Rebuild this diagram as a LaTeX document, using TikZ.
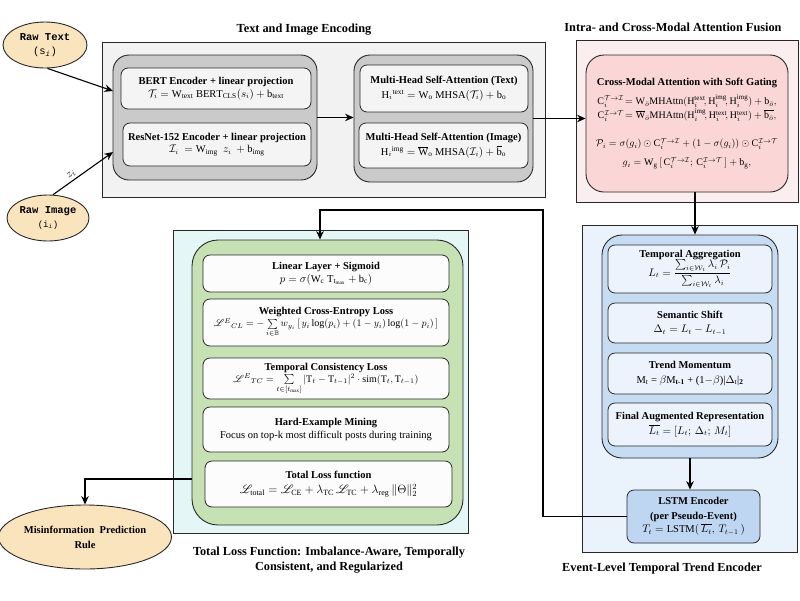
\documentclass[tikz,border=0pt]{standalone}
\usepackage{amsmath,amssymb,mathrsfs}
\usepackage{fontspec}
\setmainfont{Liberation Serif}
\setmonofont{Liberation Mono}
\usetikzlibrary{shapes.geometric,arrows.meta,calc}

\definecolor{peach}{RGB}{250,228,190}
\definecolor{encpanel}{RGB}{242,242,242}
\definecolor{encgray}{RGB}{202,202,202}
\definecolor{encbox}{RGB}{244,244,244}
\definecolor{fuspanel}{RGB}{251,238,238}
\definecolor{fuspink}{RGB}{250,214,214}
\definecolor{evpanel}{RGB}{234,242,252}
\definecolor{evblue}{RGB}{198,220,243}
\definecolor{evbox}{RGB}{236,243,252}
\definecolor{lstmblue}{RGB}{190,214,242}
\definecolor{losspanel}{RGB}{229,246,246}
\definecolor{lossgreen}{RGB}{198,225,180}
\definecolor{lossbox}{RGB}{252,252,252}
\definecolor{edge}{RGB}{40,40,40}

\newcommand{\boxhead}[1]{\textbf{\fontsize{10.5}{12}\selectfont #1}}

\begin{document}
\begin{tikzpicture}[x=1pt,y=-1pt,
  every node/.style={inner sep=1pt, align=center, font=\fontsize{10.5}{12.5}\selectfont},
  arr/.style={-{Stealth[length=8.5pt,width=7.5pt]}, line width=1.1pt, draw=black},
  panel/.style={draw=edge, line width=0.8pt, rectangle},
  holder/.style={draw=edge, line width=0.9pt, rectangle, rounded corners=16pt},
  inbox/.style={draw=edge, line width=0.8pt, rectangle, rounded corners=7pt},
  oval/.style={draw=edge, line width=0.9pt, ellipse, fill=peach, inner sep=0pt},
  title/.style={font=\bfseries\fontsize{12.3}{15}\selectfont}
]
\useasboundingbox (0,0) rectangle (800,600);

% ---------- inputs ----------
\node[oval, minimum width=84pt, minimum height=46pt, font=\ttfamily\bfseries\fontsize{10.5}{13}\selectfont] (rawtext) at (45,45)
  {Raw Text\\[1pt]\mdseries (s\textsubscript{\itshape i})};
\node[oval, minimum width=82pt, minimum height=46pt, font=\ttfamily\bfseries\fontsize{10.5}{13}\selectfont] (rawimg) at (48,218)
  {Raw Image\\[1pt]\mdseries\fontsize{9}{11}\selectfont (i\textsubscript{\itshape i})};

% ---------- text and image encoding ----------
\node[title] (enctitle) at (304,30) {Text and Image Encoding};
\node[panel, fill=encpanel, minimum width=443pt, minimum height=155pt] (enc) at (323.5,119.5) {};
\node[holder, fill=encgray, minimum width=204pt, minimum height=125pt] (leftc) at (215,117.5) {};
\node[holder, fill=encgray, minimum width=179pt, minimum height=127pt] (rightc) at (443.5,118.5) {};

\node[inbox, fill=encbox, minimum width=190pt, minimum height=41pt] (bert) at (216,88.5)
  {\boxhead{BERT Encoder + linear projection}\\
   $\mathcal{T}_i = \mathrm{W}_{\mathrm{text}}\ \mathrm{BERT}_{\mathrm{CLS}}(s_i) + \mathrm{b}_{\mathrm{text}}$};
\node[inbox, fill=encbox, minimum width=188pt, minimum height=43pt] (resnet) at (217,144.5)
  {\boxhead{ResNet-152 Encoder + linear projection}\\
   $\mathcal{I}_i\ = \mathrm{W}_{\mathrm{img}}\ \ z_i\ + \mathrm{b}_{\mathrm{img}}$};

\node[inbox, fill=encbox, minimum width=168pt, minimum height=47pt] (mhsat) at (444,88.5)
  {\boxhead{Multi-Head Self-Attention (Text)}\\[2pt]
   $\mathrm{H}_i{}^{\mathrm{text}} = \mathrm{W}_{\mathrm{o}}\ \mathrm{MHSA}(\mathcal{T}_i) + \mathrm{b}_{\mathrm{o}}$};
\node[inbox, fill=encbox, minimum width=169pt, minimum height=45pt] (mhsai) at (443.5,145.5)
  {\boxhead{Multi-Head Self-Attention (Image)}\\[2pt]
   $\mathrm{H}_i{}^{\mathrm{img}} = \overline{\mathrm{W}}_{\mathrm{o}}\ \mathrm{MHSA}(\mathcal{I}_i) + \overline{\mathrm{b}}_{\mathrm{o}}$};

% ---------- attention fusion ----------
\node[title] (fustitle) at (673,27) {Intra- and Cross-Modal Attention Fusion};
\node[panel, fill=fuspanel, minimum width=222pt, minimum height=162pt] (fus) at (687,121) {};
\node[holder, fill=fuspink, minimum width=202pt, minimum height=137pt, rounded corners=18pt,
      font=\fontsize{10}{12}\selectfont] (pinkc) at (687,123.5)
  {\boxhead{Cross-Modal Attention with Soft Gating}\\[7pt]
   $\mathrm{C}_i^{\mathcal{T}\to\mathcal{I}}\!= \mathrm{W}_{\bar{o}}\mathrm{MHAttn}(\mathrm{H}_i^{\mathrm{text}}\!, \mathrm{H}_i^{\mathrm{img}}\!, \mathrm{H}_i^{\mathrm{img}}) + \mathrm{b}_{\bar{o}},$\\[1pt]
   $\mathrm{C}_i^{\mathcal{I}\to\mathcal{T}}\!= \overline{\mathrm{W}}_{\bar{o}}\mathrm{MHAttn}(\mathrm{H}_i^{\mathrm{img}}\!, \mathrm{H}_i^{\mathrm{text}}\!, \mathrm{H}_i^{\mathrm{text}}) + \overline{\mathrm{b}_{\bar{o}}},$\\[16pt]
   $\mathcal{P}_i = \sigma(g_i) \odot \mathrm{C}_i^{\mathcal{T}\to\mathcal{I}} + (1-\sigma(g_i)) \odot \mathrm{C}_i^{\mathcal{I}\to\mathcal{T}}$\\[7pt]
   $g_i = \mathrm{W}_{\mathrm{g}}\,[\,\mathrm{C}_i^{\mathcal{T}\to\mathcal{I}};\,\mathrm{C}_i^{\mathcal{I}\to\mathcal{T}}\,] + \mathrm{b}_{\mathrm{g}},$};

% ---------- event-level temporal trend encoder ----------
\node[title] (evtitle) at (662,569) {Event-Level Temporal Trend Encoder};
\node[panel, fill=evpanel, minimum width=215pt, minimum height=327pt] (ev) at (689.5,388.5) {};
\node[holder, fill=evblue, minimum width=176pt, minimum height=223pt, rounded corners=20pt] (bluec) at (690,346.5) {};
\node[inbox, fill=evbox, minimum width=164pt, minimum height=48pt] (tagg) at (690,269)
  {\boxhead{Temporal Aggregation}\\[-1pt]
   $L_t = \dfrac{\textstyle\sum_{i\in\mathcal{W}_t}\lambda_i\,\mathcal{P}_i}{\textstyle\sum_{i\in\mathcal{W}_t}\lambda_i}$};
\node[inbox, fill=evbox, minimum width=164pt, minimum height=40pt] (sshift) at (690,323)
  {\boxhead{Semantic Shift}\\[2pt] $\Delta_t = L_t - L_{t-1}$};
\node[inbox, fill=evbox, minimum width=164pt, minimum height=41pt] (tmom) at (690,373.5)
  {\boxhead{Trend Momentum}\\[2pt] M\textsubscript{t} = $\beta$M\textsubscript{\textbf{t-1}} + (1$-\beta$)|$\Delta$\textsubscript{t}|\textsubscript{\textbf{2}}};
\node[inbox, fill=evbox, minimum width=164pt, minimum height=43pt] (faug) at (690,424.5)
  {\boxhead{Final Augmented Representation}\\[2pt] $\overline{L_t} = [L_t;\,\Delta_t;\,M_t]$};
\node[inbox, fill=lstmblue, minimum width=133pt, minimum height=53pt] (lstm) at (693.5,516.5)
  {\boxhead{LSTM Encoder}\\[2pt] \boxhead{(per Pseudo-Event)}\\[1pt] $T_t = \mathrm{LSTM}(\,\overline{L_t},\,T_{t-1}\,)$};

% ---------- loss ----------
\node[title] (losstitle) at (329,560) {Total Loss Function: Imbalance-Aware, Temporally\\Consistent, and Regularized};
\node[panel, fill=losspanel, minimum width=295pt, minimum height=303pt] (loss) at (320.5,381.5) {};
\node[holder, fill=lossgreen, minimum width=271pt, minimum height=285pt, rounded corners=26pt] (greenc) at (327.5,382.5) {};
\node[inbox, fill=lossbox, minimum width=246pt, minimum height=37pt] (linsig) at (326,273.5)
  {\boxhead{Linear Layer + Sigmoid}\\ $p = \sigma(\mathrm{W}_{\mathrm{c}}\ \mathrm{T}_{\mathrm{t_{max}}} + \mathrm{b}_{\mathrm{c}})$};
\node[inbox, fill=lossbox, minimum width=246pt, minimum height=47pt, font=\fontsize{10}{12}\selectfont] (wce) at (326,322.5)
  {\boxhead{Weighted Cross-Entropy Loss}\\
   $\mathscr{L}^{E}{}_{CL} = -\sum\limits_{i\in\mathbb{B}} w_{y_i}\,[\,y_i\log(p_i) + (1-y_i)\log(1-p_i)\,]$};
\node[inbox, fill=lossbox, minimum width=246pt, minimum height=41pt, font=\fontsize{10}{12}\selectfont] (tcl) at (326,378.5)
  {\boxhead{Temporal Consistency Loss}\\
   $\mathscr{L}^{E}{}_{TC} = \sum\limits_{t\in[t_{\max}]} |\mathrm{T}_t - \mathrm{T}_{t-1}|^2\cdot\mathrm{sim}(\mathrm{T}_t,\mathrm{T}_{t-1})$};
\node[inbox, fill=lossbox, minimum width=246pt, minimum height=45pt] (hem) at (326,429.5)
  {\boxhead{Hard-Example Mining}\\ Focus on top-k most difficult posts during training};
\node[inbox, fill=lossbox, minimum width=247pt, minimum height=46pt, font=\fontsize{12}{13}\selectfont] (tloss) at (328.5,484)
  {\boxhead{Total Loss function}\\[2pt]
   $\mathscr{L}_{\mathrm{total}} = \mathscr{L}_{\mathrm{CE}} + \lambda_{\mathrm{TC}}\,\mathscr{L}_{\mathrm{TC}} + \lambda_{\mathrm{reg}}\,\|\Theta\|_2^2$};

\node[oval, minimum width=156pt, minimum height=64pt, font=\bfseries\fontsize{10.5}{15}\selectfont] (misinfo) at (85,537)
  {Misinformation\ \ Prediction\\ Rule};

% ---------- connectors ----------
\coordinate (inT) at (113,91);
\coordinate (inI) at (113,152);
\coordinate (loopA) at (543,210);
\draw[arr] (rawtext.-84) -- (inT);
\draw[arr] (rawimg.78) -- node[pos=0.36, sloped, above=1pt, font=\fontsize{11}{12}\selectfont] {$z_i$} (inI);
\draw[arr] (leftc.east) -- (leftc.east -| rightc.west);
\draw[arr] (rightc.east) -- (rightc.east -| pinkc.west);
\draw[arr] ([xshift=8pt]pinkc.south) -- ([xshift=8pt]pinkc.south |- bluec.north);
\draw[arr] (bluec.south) -- (bluec.south |- lstm.north);
\draw[arr] (lstm.west) -| (loopA) -| ([xshift=-7.5pt]greenc.north);
\draw[arr] (greenc.west |- 0,479) -| (misinfo.north);
\end{tikzpicture}
\end{document}
